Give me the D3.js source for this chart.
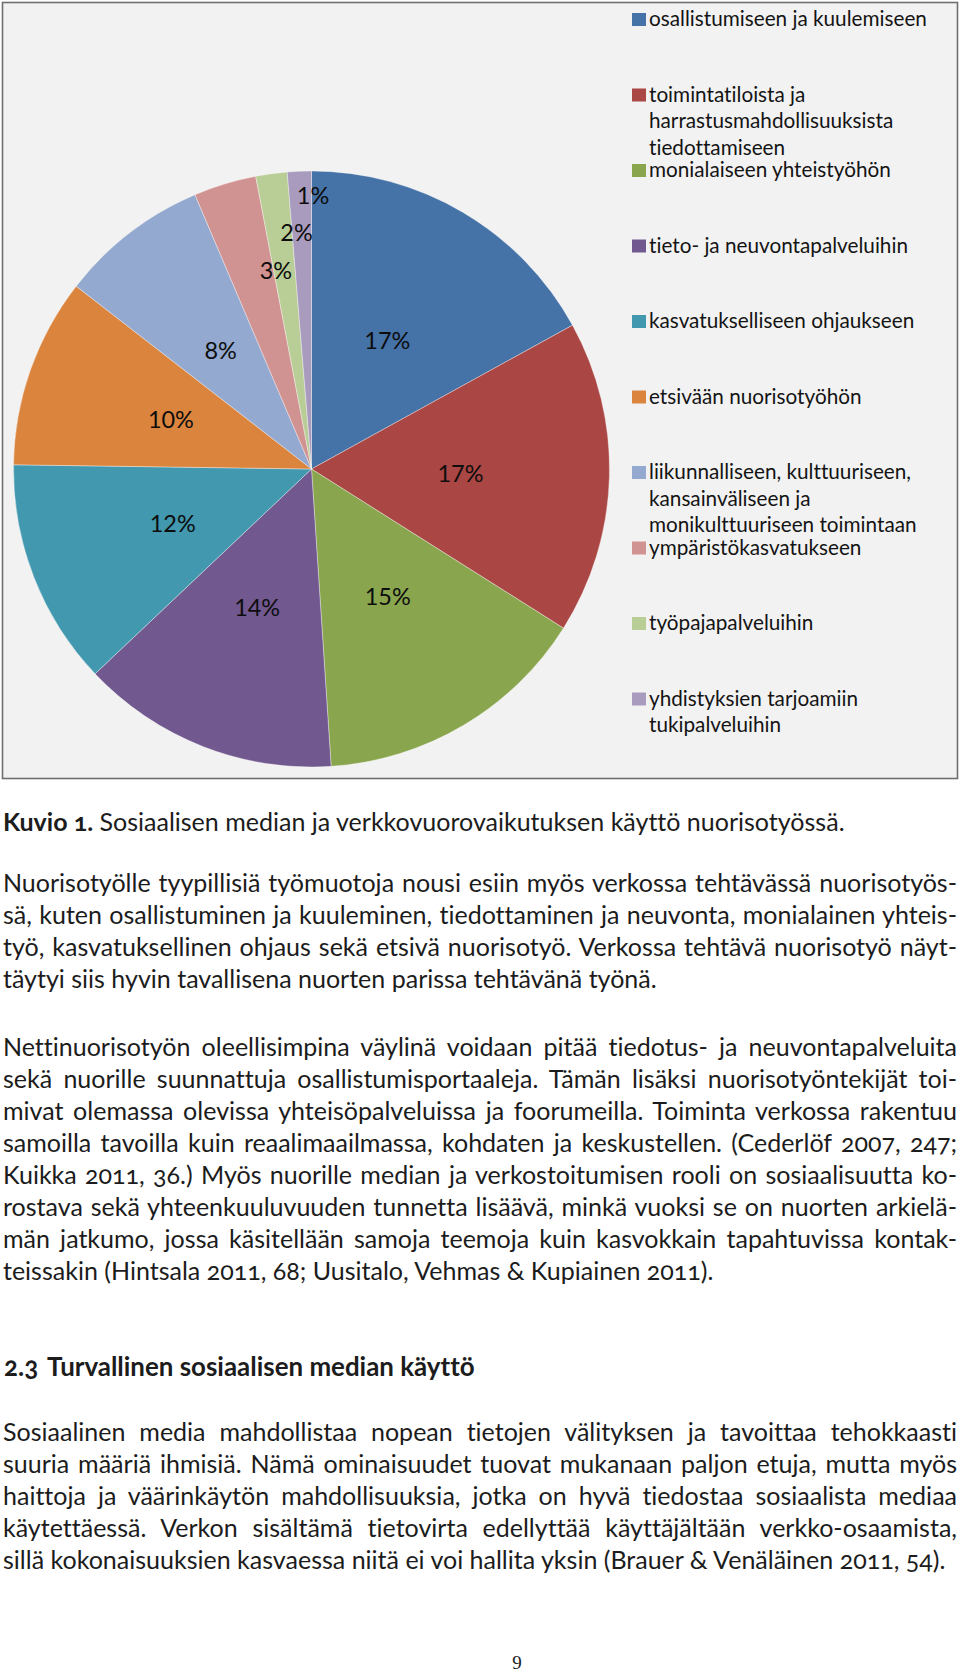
<!DOCTYPE html>
<html><head><meta charset="utf-8">
<script src="https://cdn.jsdelivr.net/npm/d3@7"></script>
<style>
html,body{margin:0;padding:0;background:#fff;}
svg{display:block;}
text{font-variant-ligatures:none;font-feature-settings:"liga" 0,"clig" 0;}
.body text, text.body{font-variant-numeric:oldstyle-nums;}
</style></head>
<body><svg id="page" width="960" height="1674"></svg>
<script>
// ---------- DATA ----------
const categories = [
  "osallistumiseen ja kuulemiseen",
  "toimintatiloista ja harrastusmahdollisuuksista tiedottamiseen",
  "monialaiseen yhteistyöhön",
  "tieto- ja neuvontapalveluihin",
  "kasvatukselliseen ohjaukseen",
  "etsivään nuorisotyöhön",
  "liikunnalliseen, kulttuuriseen, kansainväliseen ja monikulttuuriseen toimintaan",
  "ympäristökasvatukseen",
  "työpajapalveluihin",
  "yhdistyksien tarjoamiin tukipalveluihin"
];
const values = [17.0, 17.0, 15.0, 14.0, 12.3, 10.3, 8.1, 3.4, 1.7, 1.3];
const colors = ["#4572A7","#AA4643","#89A54E","#71588F","#4198AF","#DB843D","#93A9CF","#D19392","#B9CD96","#A99BBD"];

const captionBold = "Kuvio 1.";
const captionText = " Sosiaalisen median ja verkkovuorovaikutuksen käyttö nuorisotyössä.";
const para1 = [
  "Nuorisotyölle tyypillisiä työmuotoja nousi esiin myös verkossa tehtävässä nuorisotyös-",
  "sä, kuten osallistuminen ja kuuleminen, tiedottaminen ja neuvonta, monialainen yhteis-",
  "työ, kasvatuksellinen ohjaus sekä etsivä nuorisotyö. Verkossa tehtävä nuorisotyö näyt-",
  "täytyi siis hyvin tavallisena nuorten parissa tehtävänä työnä."
];
const para2 = [
  "Nettinuorisotyön oleellisimpina väylinä voidaan pitää tiedotus- ja neuvontapalveluita",
  "sekä nuorille suunnattuja osallistumisportaaleja. Tämän lisäksi nuorisotyöntekijät toi-",
  "mivat olemassa olevissa yhteisöpalveluissa ja foorumeilla. Toiminta verkossa rakentuu",
  "samoilla tavoilla kuin reaalimaailmassa, kohdaten ja keskustellen. (Cederlöf 2007, 247;",
  "Kuikka 2011, 36.) Myös nuorille median ja verkostoitumisen rooli on sosiaalisuutta ko-",
  "rostava sekä yhteenkuuluvuuden tunnetta lisäävä, minkä vuoksi se on nuorten arkielä-",
  "män jatkumo, jossa käsitellään samoja teemoja kuin kasvokkain tapahtuvissa kontak-",
  "teissakin (Hintsala 2011, 68; Uusitalo, Vehmas & Kupiainen 2011)."
];
const headingNum = "2.3";
const headingText = "Turvallinen sosiaalisen median käyttö";
const para3 = [
  "Sosiaalinen media mahdollistaa nopean tietojen välityksen ja tavoittaa tehokkaasti",
  "suuria määriä ihmisiä. Nämä ominaisuudet tuovat mukanaan paljon etuja, mutta myös",
  "haittoja ja väärinkäytön mahdollisuuksia, jotka on hyvä tiedostaa sosiaalista mediaa",
  "käytettäessä. Verkon sisältämä tietovirta edellyttää käyttäjältään verkko-osaamista,",
  "sillä kokonaisuuksien kasvaessa niitä ei voi hallita yksin (Brauer & Venäläinen 2011, 54)."
];
const pageNumber = "9";

// ---------- LAYOUT / STYLE ----------
const svg = d3.select("#page");
const chartFont = "Lato, 'Open Sans', sans-serif";
const bodyFont = "Lato, 'Noto Sans', sans-serif";
const textColor = "#1c1c1c";

function fitSize(font, weight, sample, target, base, cls) {
  const t = svg.append("text").attr("class", cls || null).attr("font-family", font).attr("font-weight", weight)
    .attr("font-size", base).text(sample);
  const w = t.node().getComputedTextLength();
  t.remove();
  return base * target / w;
}

// frame
svg.append("rect").attr("x", 2.5).attr("y", 2.5).attr("width", 955).attr("height", 776)
  .attr("fill", "#f2f2f2").attr("stroke", "#6f6f6f").attr("stroke-width", 1.6);

// pie
const cx = 311.5, cy = 469, R = 298;
const pie = d3.pie().sort(null).value(d => d)(values);
const arc = d3.arc().innerRadius(0).outerRadius(R);
const gPie = svg.append("g").attr("transform", `translate(${cx},${cy})`);
gPie.selectAll("path").data(pie).join("path")
  .attr("d", arc)
  .attr("fill", (d, i) => colors[i])
  .attr("stroke", "#ffffff").attr("stroke-opacity", 0.45).attr("stroke-width", 0.8);

// labels
const labelSize = fitSize(chartFont, 400, "17%", 46, 20);
const labelNudge = {7: {r: 0.675, da: 6.7}, 8: {r: 0.794, da: 4.1}, 9: {r: 0.919, da: 2.65}};
gPie.selectAll("text.lbl").data(pie).join("text")
  .attr("class", "lbl")
  .each(function(d, i) {
    const n = labelNudge[i] || {r: 0.5, da: 0};
    const a = (d.startAngle + d.endAngle) / 2 + n.da * Math.PI / 180;
    const r = n.r * R;
    d3.select(this).attr("x", r * Math.sin(a)).attr("y", -r * Math.cos(a));
  })
  .attr("dy", "0.36em")
  .attr("text-anchor", "middle")
  .attr("font-family", chartFont).attr("font-size", labelSize)
  .attr("fill", "#0d0d0d")
  .text(d => Math.round(d.data) + "%");

// legend
const legendSize = fitSize(chartFont, 400, categories[0], 278, 20);
const legendX = 632, legendTop = 26, slot = 75.5, lineH = 26.5, maxW = 300;
const gLeg = svg.append("g");
categories.forEach((c, i) => {
  const y0 = legendTop + slot * i;
  gLeg.append("rect").attr("x", legendX).attr("y", y0 - 13).attr("width", 14).attr("height", 13)
    .attr("fill", colors[i]);
  const t = gLeg.append("text").attr("x", legendX + 17).attr("y", y0)
    .attr("font-family", chartFont).attr("font-size", legendSize).attr("fill", "#141414");
  const words = c.split(" ");
  let line = [], ln = 0;
  let tsp = t.append("tspan").attr("x", legendX + 17).attr("y", y0);
  words.forEach(w => {
    line.push(w);
    tsp.text(line.join(" "));
    if (tsp.node().getComputedTextLength() > maxW && line.length > 1) {
      line.pop(); tsp.text(line.join(" "));
      line = [w]; ln++;
      tsp = t.append("tspan").attr("x", legendX + 17).attr("y", y0 + ln * lineH).text(w);
    }
  });
});

// body text
const bodySize = fitSize(bodyFont, 400, para3[para3.length - 1], 943, 20, "body");
const leftX = 3, rightX = 957;
function textLine(str, y, justify) {
  const t = svg.append("text").attr("class", "body").attr("x", leftX).attr("y", y)
    .attr("font-family", bodyFont).attr("font-size", bodySize)
    .attr("fill", textColor).text(str);
  if (justify) {
    const nat = t.node().getComputedTextLength();
    const spaces = (str.match(/ /g) || []).length;
    if (spaces) t.style("word-spacing", ((rightX - leftX - nat) / spaces) + "px");
  }
  return t;
}
function paragraph(lines, y0) {
  lines.forEach((s, i) => textLine(s, y0 + i * 32, i < lines.length - 1));
}

// caption
const cap = svg.append("text").attr("class", "body").attr("x", leftX).attr("y", 831)
  .attr("font-family", bodyFont).attr("font-size", bodySize).attr("fill", textColor);
cap.append("tspan").attr("font-weight", 700).text(captionBold);
cap.append("tspan").text(captionText);

paragraph(para1, 892);
paragraph(para2, 1056);

// heading
const headSize = fitSize(bodyFont, 700, headingText, 428, 20, "body");
const hd = svg.append("text").attr("class", "body").attr("y", 1376)
  .attr("font-family", bodyFont).attr("font-size", headSize).attr("font-weight", 700).attr("fill", textColor);
hd.append("tspan").attr("x", 4).text(headingNum);
hd.append("tspan").attr("x", 47).text(headingText);

paragraph(para3, 1441);

svg.append("text").attr("x", 517).attr("y", 1669).attr("text-anchor", "middle")
  .attr("font-family", "'Liberation Serif', serif").attr("font-size", 19).attr("fill", "#222")
  .text(pageNumber);
</script>
</body></html>
